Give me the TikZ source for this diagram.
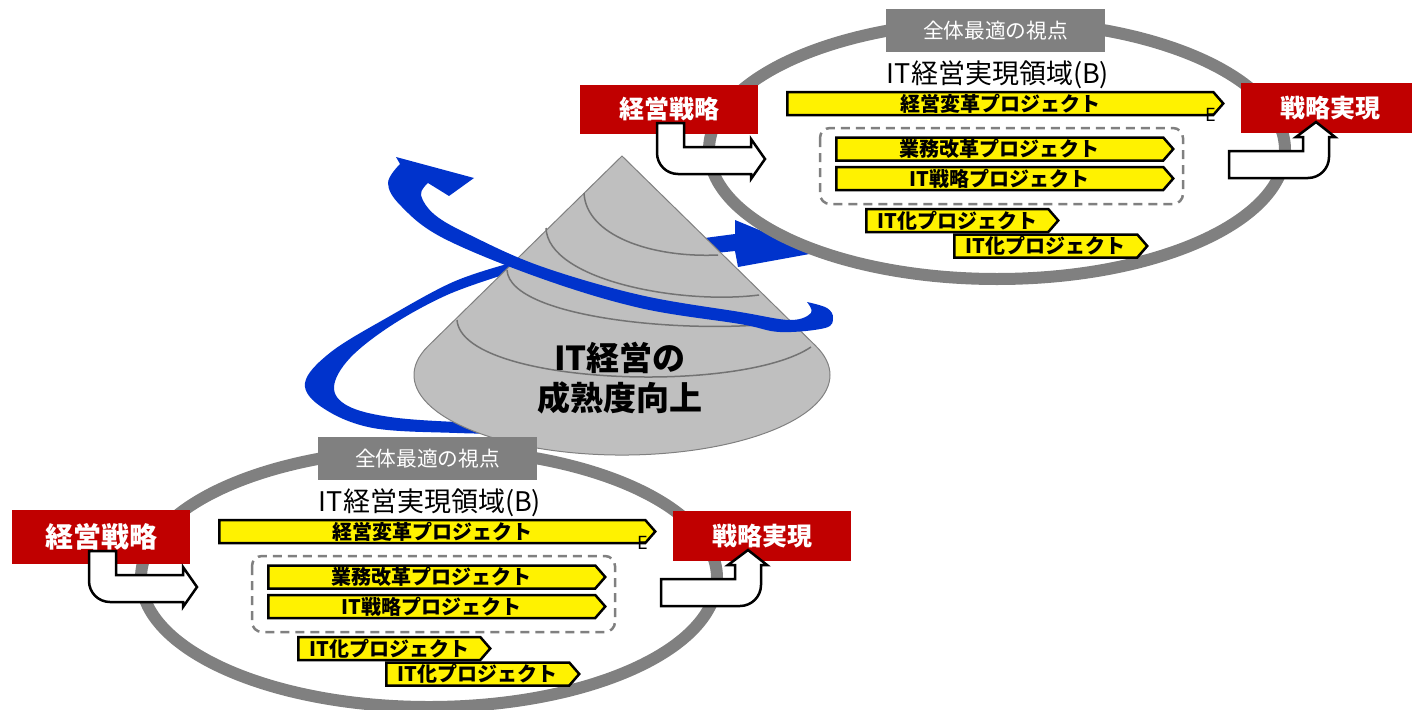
\documentclass[tikz,border=0pt]{standalone}
\usepackage{fontspec}
\setmainfont{Noto Sans CJK JP}
\usetikzlibrary{shapes.symbols}
\definecolor{mgmtred}{HTML}{C00000}
\definecolor{ringgray}{HTML}{808080}
\definecolor{conegray}{HTML}{BFBFBF}
\definecolor{spiralblue}{HTML}{0033CC}
\tikzset{
  ring/.style     ={draw=ringgray,line width=12pt},
  viewbox/.style  ={fill=ringgray,text=white,minimum width=219pt,minimum height=43pt,inner sep=0pt,font=\fontsize{20.7}{24}\selectfont},
  realm/.style    ={inner sep=0pt,font=\fontsize{27}{30}\selectfont},
  redbox/.style   ={fill=mgmtred,text=white,minimum width=178pt,inner sep=0pt},
  proj/.style     ={signal,signal to=east,signal pointer angle=98,draw,line width=2.5pt,fill=yellow,inner sep=0pt,
                    anchor=west,minimum height=23pt,font=\bfseries\fontsize{20}{22}\selectfont},
  projgroup/.style={draw=ringgray,line width=2.5pt,rounded corners=10pt,dash pattern=on 9pt off 6pt},
  bent/.style     ={draw,fill=white,line width=2.5pt},
  spiral/.style   ={fill=spiralblue},
  cone/.style     ={fill=conegray,draw=gray,line width=1pt},
  contour/.style  ={draw=black!55,line width=1.5pt},
  conelabel/.style={align=center,inner sep=0pt,font=\bfseries\fontsize{33}{40}\selectfont},
}
\begin{document}
\begin{tikzpicture}[x=1pt,y=-1pt]
  \useasboundingbox (0,0) rectangle (1412,709);
  \clip (0,0) rectangle (1412,709);
  % back half of the spiral, runs behind the cone
  \fill[spiral] plot[smooth,tension=.6] coordinates {(525,434) (457,433) (373,428) (323,408) (305,383) (331,352) (390,316) (453,282) (507,264)}
    -- (735,234) -- (735,220) -- (815,253) -- (738,267) -- (735,251) -- (503,275)
    -- plot[smooth,tension=.6] coordinates {(503,275) (447,295) (392,325) (350,358) (334,387) (348,406) (390,417) (457,422) (525,423)} -- cycle;
  % cone with its rings
  \path[cone] (622,156) -- (428.4,345.8) arc[start angle=201.43,end angle=-21.43,x radius=208,y radius=80] -- cycle;
  \draw[contour] (584,193) .. controls (586,235) and (650,258) .. (718,255);
  \draw[contour] (546,228) .. controls (548,280) and (680,305) .. (759,295);
  \draw[contour] (507,270) .. controls (510,320) and (700,335) .. (786,322);
  \draw[contour] (457,320) .. controls (462,385) and (740,395) .. (811,347);
  % front half of the spiral
  \fill[spiral] (474,178) -- (449,196) -- (428,183)
    -- plot[smooth,tension=.6] coordinates {(428,183) (421,195) (435,215) (470,235) (540,266) (640,295) (740,312) (790,320) (811,313) (807,302)}
    -- plot[smooth,tension=.6] coordinates {(807,302) (827,308) (833,318) (825,328) (780,332) (740,324) (640,308) (540,278) (443,238) (401,206) (388,183) (400,164)}
    -- (396,157) -- cycle;
  \node[conelabel] (maturity) at (620,378) {IT経営の\\成熟度向上};
  % the two realm diagrams, the upper one is the lower one moved
  \foreach \g/\dx/\dy/\fs/\hh in {lo/0/0/28/54pt, up/568/-428/25/49pt}{
    \begin{scope}[shift={(\dx,\dy)}]
      \draw[ring] (429,578) ellipse [x radius=288,y radius=129];
      \node[viewbox] (view\g) at (427.5,458.5) {全体最適の視点};
      \node[realm] (realm\g) at (430,503) {IT経営実現領域(B)};
      \draw[projgroup] (252,556) rectangle (615,632);
      \node[proj,minimum width=436pt] (reform\g) at (218,531.5) {経営変革プロジェクト};
      \node[proj,minimum width=337pt] (biz\g) at (267,577) {業務改革プロジェクト};
      \node[proj,minimum width=337pt] (itstrat\g) at (267,606.5) {IT戦略プロジェクト};
      \node[proj,minimum width=192pt] (itize\g) at (297,648.5) {IT化プロジェクト};
      \node[proj,minimum width=193pt] (itizeb\g) at (385,674) {IT化プロジェクト};
      \node[inner sep=0pt,font=\fontsize{18}{18}\selectfont] (end\g) at (643,543) {E};
      \node[redbox,minimum height=\hh,font=\bfseries\fontsize{\fs}{\fs}\selectfont] (mgmt\g) at (101,537) {経営戦略};
      \node[redbox,minimum height=50pt,font=\bfseries\fontsize{25}{25}\selectfont] (goal\g) at (762,536) {戦略実現};
      \draw[bent] (89,551) -- (89,581) .. controls (89,592.6) and (98.4,602) .. (110,602) -- (183,602) -- (183,607)
        -- (197,587) -- (183,567) -- (183,575) -- (116,575) -- (116,551) -- cycle;
      \draw[bent] (661,579) -- (735,579) -- (735,565) -- (728,565) -- (748,550) -- (767,565) -- (761,565)
        -- (761,585) .. controls (761,596.6) and (751.6,606) .. (740,606) -- (661,606) -- cycle;
    \end{scope}
  }
\end{tikzpicture}
\end{document}
